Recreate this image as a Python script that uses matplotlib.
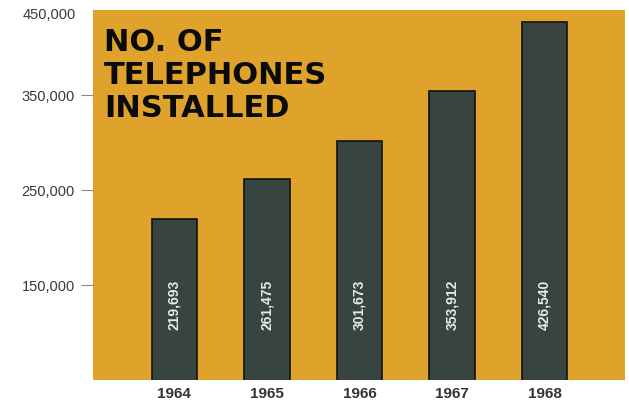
import matplotlib
matplotlib.use("Agg")
import matplotlib.pyplot as plt

# data
years = ["1964", "1965", "1966", "1967", "1968"]
phones = [219693, 261475, 301673, 353912, 426540]
tick_values = [150000, 250000, 350000]
tick_labels = ["150,000", "250,000", "350,000"]

panel_color = "#DFA22A"
bar_color = "#38443F"

fig = plt.figure(figsize=(6.29, 4.04), dpi=100)
ax = fig.add_axes([93 / 629, 24 / 404, 532 / 629, 370 / 404])
ax.set_facecolor(panel_color)

x = list(range(len(years)))
ax.bar(x, phones, width=0.49, bottom=0, color=bar_color,
       edgecolor="#111111", linewidth=1.2, zorder=2)

for xi, v in zip(x, phones):
    ax.text(xi, 129000, f"{v:,}", rotation=90, ha="center", va="center",
            color="#E8E8E8", fontsize=10, fontweight="bold",
            family="Liberation Sans", zorder=3)

ax.set_xlim(-0.88, 4.87)
ax.set_ylim(50000, 439500)

for s in ax.spines.values():
    s.set_visible(False)

ax.set_yticks(tick_values)
ax.set_yticklabels(tick_labels, family="Liberation Sans", fontsize=10.5,
                   color="#3A3A3A")
ax.tick_params(axis="y", length=9, width=0.8, color="#888888", pad=4)

ax.set_xticks(x)
ax.set_xticklabels(years, family="Liberation Sans", fontsize=11,
                   fontweight="bold", color="#333333")
ax.tick_params(axis="x", length=0, pad=5)

# top label has no tick mark in the original
fig.text(76 / 629, 1 - 15 / 404, "450,000", ha="right", va="center",
         family="Liberation Sans", fontsize=10.5, color="#3A3A3A")

ax.text(104 / 629, 1 - 28 / 404, "NO. OF\nTELEPHONES\nINSTALLED",
        transform=fig.transFigure, ha="left", va="top",
        family="DejaVu Sans", fontweight="heavy", fontsize=22,
        linespacing=1.17, color="#0A0A0A", zorder=4)

fig.savefig("out.png", dpi=100)
